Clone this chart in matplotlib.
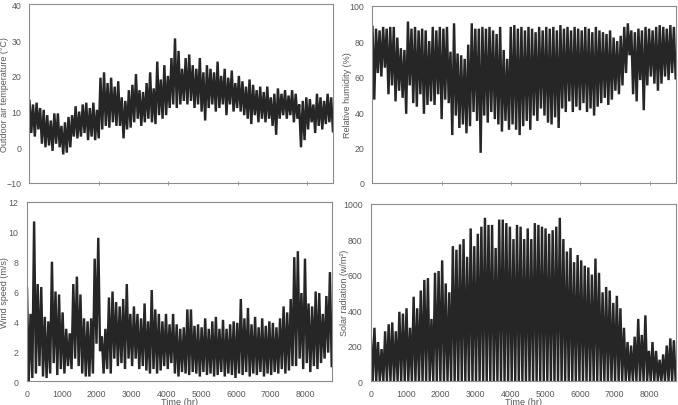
import numpy as np
import matplotlib
matplotlib.use("Agg")
import matplotlib.pyplot as plt

plt.rcParams['font.family'] = ['Liberation Sans', 'DejaVu Sans']

# ---- data: envelope readings every ~102 h (peak at each step, trough half a step later)
hours = np.linspace(0, 8700, 86)

temp_high = [13, 12, 12.5, 11, 10.5, 9, 7.5, 9.5, 9.5, 6,
             7, 8.5, 9, 11.5, 10, 12, 12.5, 11, 12.5, 10.5,
             19.5, 21, 18, 19.5, 17, 18.5, 14, 13, 16, 17.5,
             20.5, 16, 15.5, 18, 21, 16.5, 24, 19, 23, 20,
             25, 30.5, 27, 22, 25, 26, 23, 22, 25, 21,
             23, 22, 21, 24, 20, 22, 19.5, 21.5, 18, 20,
             18.5, 17, 19, 17.5, 16, 17, 15.5, 17, 14, 15,
             16.5, 15, 16, 14.5, 16, 15, 12, 13, 14, 13.5,
             12, 15, 14, 13, 15, 14]
temp_low = [4, 3, 5, 1, 0, 0.5, -1, 1, 0, -2,
            -1.5, 0, 3, 2.5, 3, 4, 2, 3, 2, 2.5,
            5, 6, 5.5, 7, 6, 6, 2.5, 5, 5.5, 7,
            8, 6, 7, 8, 7, 6.5, 9, 8, 9, 11,
            12, 11, 12, 13, 12, 13, 11, 12, 10, 7.5,
            11, 12, 10, 11, 12, 9, 12, 10, 11, 10,
            9, 8, 6.5, 9, 7, 8, 7, 8, 6, 3.5,
            8, 9, 8, 9, 7, 8, 0, 2, 5, 7,
            4, 6, 5, 6.5, 7, 4.5]

rh_high = [88, 87, 86, 88, 87, 88, 88, 82, 76, 75,
           91, 87, 88, 86, 87, 86, 80, 88, 86, 88,
           87, 88, 74, 90, 73, 72, 70, 78, 90, 87,
           87, 88, 87, 88, 86, 84, 88, 75, 70, 88,
           89, 87, 88, 86, 88, 87, 85, 88, 86, 88,
           87, 88, 86, 89, 87, 88, 86, 88, 87, 86,
           88, 87, 85, 88, 86, 85, 84, 86, 82, 80,
           83, 88, 90, 86, 85, 87, 86, 88, 87, 86,
           88, 89, 88, 87, 89, 88]
rh_low = [47, 62, 60, 65, 50, 55, 46, 52, 48, 39,
          55, 45, 43, 50, 39, 44, 46, 44, 50, 36,
          47, 45, 27, 38, 31, 33, 28, 32, 40, 35,
          17, 38, 34, 40, 36, 33, 29, 35, 30, 33,
          30, 27, 32, 35, 30, 38, 35, 42, 38, 34,
          33, 37, 31, 42, 40, 46, 40, 43, 41, 45,
          40, 42, 38, 43, 45, 48, 44, 47, 52, 50,
          55, 62, 72, 50, 46, 58, 41, 55, 60, 56,
          52, 56, 60, 58, 62, 59]

wind_high = [6.2, 4.5, 10.7, 6.5, 6.3, 4.3, 4.0, 8.0, 6.0, 5.8,
             4.6, 3.5, 3.2, 6.5, 7.0, 5.8, 4.2, 4.0, 4.2, 8.2,
             9.6, 3.0, 3.5, 5.6, 6.0, 5.3, 5.0, 5.5, 6.5, 4.5,
             5.0, 4.5, 4.2, 5.2, 4.0, 6.1, 4.8, 4.5, 4.0, 4.5,
             3.8, 4.5, 3.8, 3.5, 3.6, 4.8, 4.8, 3.7, 3.8, 3.6,
             4.2, 3.5, 4.0, 4.3, 3.5, 4.1, 3.5, 3.8, 4.0, 3.9,
             5.5, 4.2, 4.9, 3.8, 4.3, 3.6, 4.2, 3.7, 4.0, 3.9,
             3.6, 4.2, 5.0, 4.6, 5.5, 8.3, 8.7, 5.9, 8.2, 5.2,
             5.0, 6.0, 5.9, 4.5, 5.7, 7.3]
wind_low = [0, 0.2, 0.5, 1.0, 0.3, 0.2, 0.5, 1.2, 0.4, 0.8,
            0.5, 1.0, 0.8, 1.5, 1.0, 0.5, 0.3, 0.3, 0.5, 2.5,
            2.0, 0.5, 0.8, 0.5, 1.5, 1.0, 1.2, 0.8, 1.5, 1.0,
            1.5, 0.8, 1.0, 0.7, 0.5, 0.8, 0.5, 0.7, 1.0, 0.8,
            1.2, 0.5, 0.3, 0.6, 0.5, 0.4, 0.6, 0.5, 0.3, 0.6,
            0.4, 0.5, 0.3, 0.4, 0.6, 0.3, 0.5, 0.4, 0.2, 0.5,
            0.4, 0.6, 0.3, 0.5, 0.4, 0.6, 0.3, 0.5, 0.4, 0.6,
            0.5, 0.8, 0.5, 0.7, 1.0, 1.0, 1.5, 0.8, 1.2, 0.6,
            1.0, 0.8, 1.2, 1.5, 1.9, 1.0]

solar_high = [250, 300, 220, 180, 280, 320, 330, 280, 390, 380,
              410, 300, 475, 410, 510, 570, 580, 350, 610, 620,
              680, 550, 500, 760, 740, 770, 800, 700, 860, 760,
              830, 870, 920, 880, 880, 750, 910, 910, 890, 870,
              800, 880, 870, 800, 860, 800, 890, 880, 870, 860,
              830, 850, 870, 920, 800, 730, 750, 670, 710, 680,
              650, 640, 600, 690, 610, 500, 530, 510, 440, 480,
              410, 300, 220, 200, 250, 350, 260, 370, 170, 220,
              170, 120, 150, 200, 240, 230]
solar_night = 0

# ---- layout
LINE = '#262626'
SPINE = '#8c8c8c'
TXT = '#595959'
LW = 1.75

fig = plt.figure(figsize=(6.78, 4.06), dpi=100)
pos = {
    'tl': [0.0435, 0.5468, 0.448, 0.4397],
    'tr': [0.5494, 0.5468, 0.4476, 0.4370],
    'bl': [0.0398, 0.0591, 0.4499, 0.4409],
    'br': [0.5470, 0.0591, 0.4500, 0.4370],
}


def zigzag(high, low):
    step = hours[1] - hours[0]
    x = np.empty(2 * len(hours))
    y = np.empty(2 * len(hours))
    x[0::2] = hours
    x[1::2] = hours + step / 2
    y[0::2] = np.asarray(high, float)
    y[1::2] = np.asarray(low, float) * np.ones(len(hours))
    return x, y


def style(ax, ylim, yticks, ylabel, ylab_x, bottom_labels):
    ax.set_xlim(0, 8760)
    ax.set_ylim(*ylim)
    ax.set_yticks(yticks)
    for s in ax.spines.values():
        s.set_color(SPINE)
        s.set_linewidth(0.8)
        s.set_zorder(3)
    ax.tick_params(axis='y', length=0, pad=6, labelsize=6.3, labelcolor=TXT)
    if bottom_labels:
        ax.set_xticks(range(0, 9000, 1000))
        ax.tick_params(axis='x', length=0, pad=6, labelsize=6.3, labelcolor=TXT)
        ax.set_xlabel('Time (hr)', fontsize=6.6, color=TXT)
        ax.xaxis.set_label_coords(0.5, -0.09)
    else:
        ax.set_xticks(range(2000, 9000, 2000))
        ax.set_xticklabels([])
        ax.tick_params(axis='x', direction='inout', length=3, width=0.6, color=SPINE)
    ax.set_ylabel(ylabel, fontsize=6.5, color=TXT)
    ax.yaxis.set_label_coords(ylab_x, 0.5)


ax = fig.add_axes(pos['tl'])
x, y = zigzag(temp_high, temp_low)
ax.plot(x, y, color=LINE, lw=LW, solid_joinstyle='bevel')
style(ax, (-10, 40), range(-10, 41, 10), 'Outdoor air temperature (°C)', -0.069, False)

ax = fig.add_axes(pos['tr'])
x, y = zigzag(rh_high, rh_low)
ax.plot(x, y, color=LINE, lw=LW, solid_joinstyle='bevel')
style(ax, (0, 100), range(0, 101, 20), 'Relative humidity (%)', -0.0675, False)

ax = fig.add_axes(pos['bl'])
x, y = zigzag(wind_high, wind_low)
ax.plot(x, y, color=LINE, lw=LW, solid_joinstyle='bevel')
style(ax, (0, 12), range(0, 13, 2), 'Wind speed (m/s)', -0.060, True)

ax = fig.add_axes(pos['br'])
x, y = zigzag(solar_high, solar_night)
ax.plot(x, y, color=LINE, lw=LW, solid_joinstyle='bevel')
style(ax, (0, 1000), range(0, 1001, 200), 'Solar radiation (w/m²)', -0.072, True)

fig.savefig('out.png', dpi=100, facecolor='white')
